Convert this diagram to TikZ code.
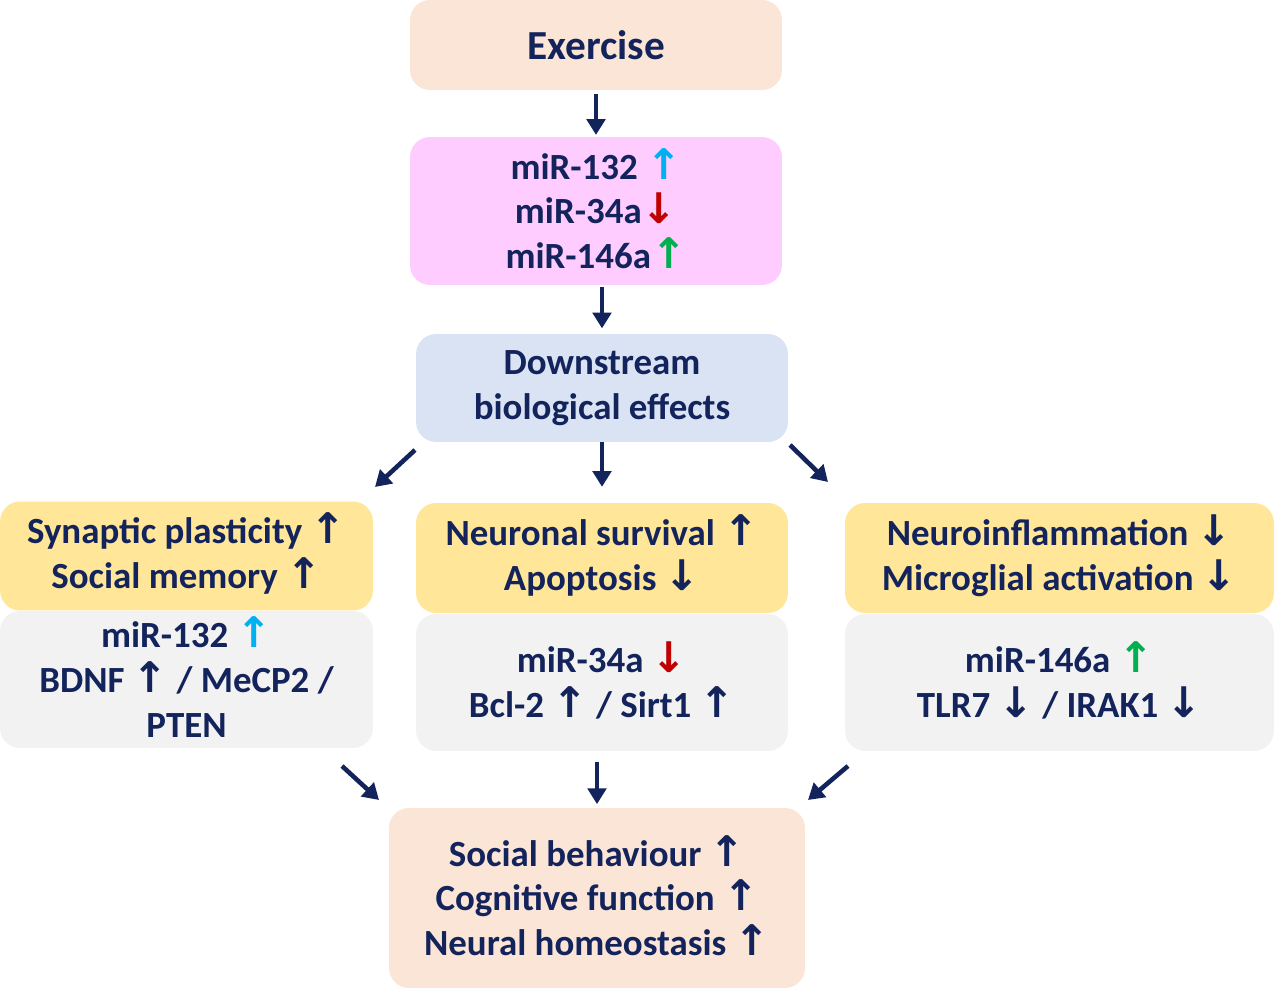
\documentclass[tikz,border=0pt]{standalone}
\usepackage{fontspec}
\setmainfont{Carlito}
\newfontfamily\arrowfont{DejaVu Sans}
\usetikzlibrary{arrows.meta}
\definecolor{navy}{HTML}{13235B}
\definecolor{peach}{HTML}{FBE5D6}
\definecolor{pinkbox}{HTML}{FFCCFF}
\definecolor{bluebox}{HTML}{DAE3F3}
\definecolor{yellowbox}{HTML}{FFE699}
\definecolor{greybox}{HTML}{F2F2F2}
\definecolor{upcyan}{HTML}{00B0F0}
\definecolor{dnred}{HTML}{C00000}
\definecolor{upgreen}{HTML}{00B050}
\def\up{\smash{\arrowfont\fontsize{24}{25.5}\selectfont\char"2191}}
\def\dn{\smash{\arrowfont\fontsize{24}{25.5}\selectfont\char"2193}}
\tikzset{
  box/.style={rounded corners=0.4cm, align=center, text=navy,
    font=\fontsize{21}{25.5}\selectfont\bfseries, inner sep=0pt},
  flow/.style={draw=navy, line width=2.6pt, -{Triangle[length=9pt,width=10.5pt]}}
}

\begin{document}
\begin{tikzpicture}[x=0.02cm, y=-0.02cm]
		%%%%% START %%%%%
		\useasboundingbox (0, 0) rectangle (1275, 989);
		
		\node[box, fill=peach, minimum width=7.44cm, minimum height=1.8cm,
			font=\fontsize{23.5}{28}\selectfont\bfseries] (ex) at (596, 45) {Exercise};
		\node[box, fill=pinkbox, minimum width=7.44cm, minimum height=2.96cm] (mir) at (596, 211)
			{miR-132 \textcolor{upcyan}{\up}\\miR-34a\textcolor{dnred}{\dn}\\miR-146a\textcolor{upgreen}{\up}};
		\node[box, fill=bluebox, minimum width=7.44cm, minimum height=2.16cm] (down) at (602, 388)
			{Downstream\\biological effects};
		
		\node[box, fill=yellowbox, minimum width=7.46cm, minimum height=2.18cm] (synap) at (186.5, 556)
			{Synaptic plasticity \up\\Social memory \up};
		\node[box, fill=greybox, minimum width=7.46cm, minimum height=2.74cm] (m132) at (186.5, 679.5)
			{miR-132 \textcolor{upcyan}{\up}\\BDNF \up{} / MeCP2 /\\PTEN};
		
		\node[box, fill=yellowbox, minimum width=7.44cm, minimum height=2.2cm] (surv) at (602, 558)
			{Neuronal survival \up\\Apoptosis \dn};
		\node[box, fill=greybox, minimum width=7.44cm, minimum height=2.74cm] (m34) at (602, 682.5)
			{miR-34a \textcolor{dnred}{\dn}\\Bcl-2 \up{} / Sirt1 \up};
		
		\node[box, fill=yellowbox, minimum width=8.58cm, minimum height=2.2cm] (infl) at (1059.5, 558)
			{Neuroinflammation \dn\\Microglial activation \dn};
		\node[box, fill=greybox, minimum width=8.58cm, minimum height=2.74cm] (m146) at (1059.5, 682.5)
			{miR-146a \textcolor{upgreen}{\up}\\TLR7 \dn{} / IRAK1 \dn};
		
		\node[box, fill=peach, minimum width=8.32cm, minimum height=3.6cm] (out) at (597, 898)
			{Social behaviour \up\\Cognitive function \up\\Neural homeostasis \up};
		
		\coordinate (dl1) at (415, 450); \coordinate (dl2) at (375, 487);
		\coordinate (dr1) at (790, 445); \coordinate (dr2) at (828, 482);
		\coordinate (ul1) at (342, 766); \coordinate (ul2) at (379, 800);
		\coordinate (ur1) at (848, 766); \coordinate (ur2) at (808, 800);
		
		\draw[flow, shorten <=2pt, shorten >=1pt] (ex) -- (mir);
		\draw[flow, shorten <=1pt, shorten >=3pt] (mir.south -| down) -- (down);
		\draw[flow, shorten >=9pt] (down) -- (surv);
		\draw[flow] (dl1) -- (dl2);
		\draw[flow] (dr1) -- (dr2);
		\draw[flow, shorten <=6pt, shorten >=2pt] (m34.south -| out) -- (out);
		\draw[flow] (ul1) -- (ul2);
		\draw[flow] (ur1) -- (ur2);
		
		%%%%% END %%%%%
	\end{tikzpicture}
\end{document}
